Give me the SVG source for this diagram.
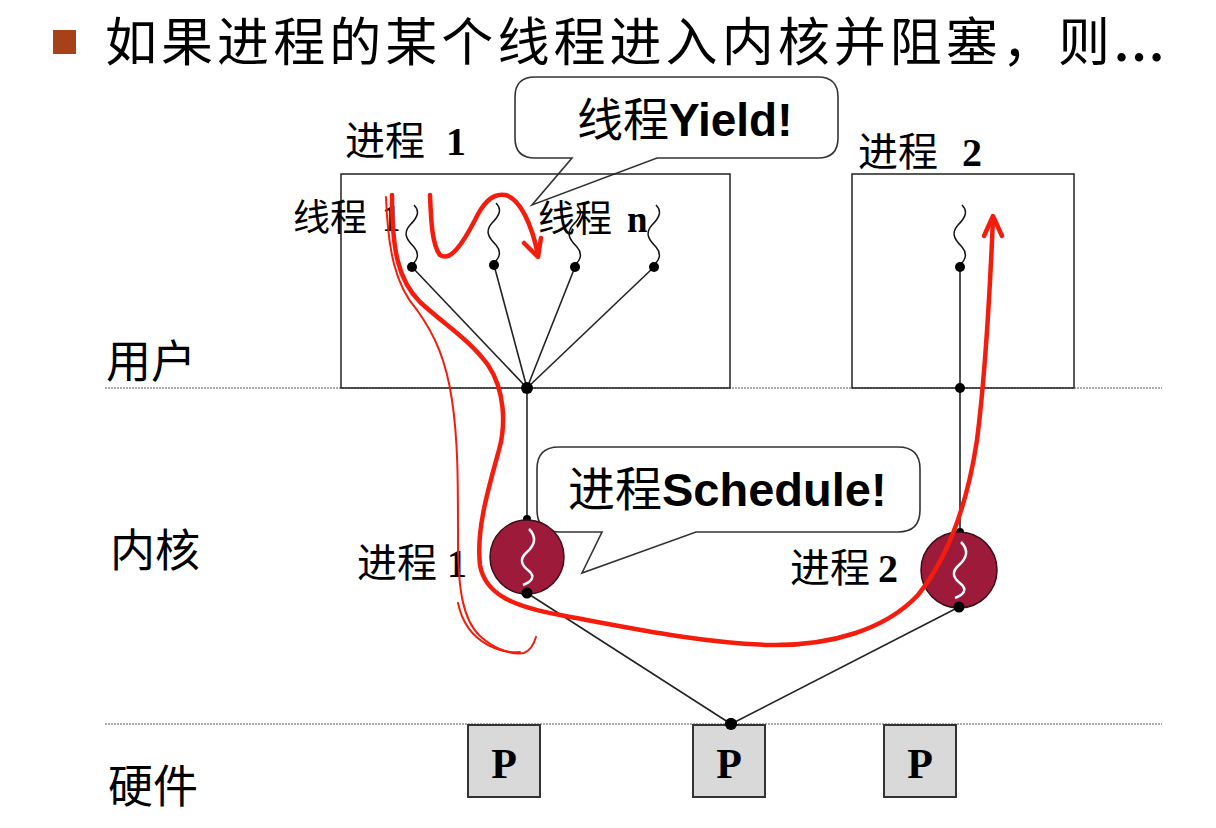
<svg xmlns="http://www.w3.org/2000/svg" xmlns:xlink="http://www.w3.org/1999/xlink" width="1216" height="828" viewBox="0 0 1216 828">
<style>
.cjk{font-family:"Noto Sans CJK SC","Noto Sans CJK JP",sans-serif;fill:#000}
.num{font-family:"Liberation Serif",serif;font-weight:bold}
.arial{font-family:"Liberation Sans",Arial,sans-serif;font-weight:bold}
.box{fill:none;stroke:#222;stroke-width:1.5}
.sep{stroke:#aaa;stroke-width:2;stroke-dasharray:2 1}
.ln{stroke:#222;stroke-width:1.6;fill:none}
.dot{fill:#000}
.sq{fill:none;stroke:#111;stroke-width:1.5}
.proc{fill:#9e1a3a;stroke:#3a0f18;stroke-width:1.5}
.wsq{fill:none;stroke:#fff;stroke-width:2.5}
.bubble{fill:#fff;stroke:#333;stroke-width:1.6;stroke-linejoin:miter}
.pbox{fill:#d9d9d9;stroke:#333;stroke-width:2}
.red{fill:none;stroke:#f41c0c;stroke-linecap:round;stroke-linejoin:round}
.thick{stroke-width:4.5}
.thin{stroke-width:2}
</style>
<defs>
<path id="squig" d="M 2,-62 C 8,-56 6,-50 -2,-42 C -9,-34 -6,-28 2,-20 C 8,-13 6,-6 -3,0"/>
<path id="wsquig" d="M 2,-28 C 10,-20 8,-12 0,-5 C -8,2 -6,8 2,14 C 9,20 4,25 -4,28"/>
</defs>
<rect width="1216" height="828" fill="#fff"/>

<g id="title">
<rect x="53" y="30" width="23" height="24" fill="#a8401a"/>
<text class="cjk" x="105" y="61" font-size="52" textLength="1005" lengthAdjust="spacing">如果进程的某个线程进入内核并阻塞，则</text>
<text class="num" x="1113" y="61" font-size="52">…</text>
</g>

<g id="layers">
<line class="sep" x1="105" y1="388" x2="1162" y2="388"/>
<line class="sep" x1="105" y1="724" x2="1162" y2="724"/>
<text class="cjk" x="106" y="378" font-size="45">用户</text>
<text class="cjk" x="110" y="567" font-size="45">内核</text>
<text class="cjk" x="108" y="803" font-size="45">硬件</text>
</g>

<g id="bubble-yield">
<path class="bubble" d="M 535,77 H 818 Q 838,77 838,97 V 138 Q 838,158 818,158 H 657 L 532,205 L 572,158 H 535 Q 515,158 515,138 V 97 Q 515,77 535,77 Z"/>
<text x="577" y="136" font-size="46"><tspan class="cjk">线程</tspan><tspan class="arial">Yield!</tspan></text>
</g>

<g id="process1">
<rect class="box" x="341" y="174" width="389" height="214"/>
<text font-size="40" y="155"><tspan class="cjk" x="345">进程</tspan><tspan class="num" x="446">1</tspan></text>
<text font-size="37" y="231"><tspan class="cjk" x="293">线程</tspan><tspan class="num" x="382">1</tspan></text>
<text font-size="37" y="232"><tspan class="cjk" x="538">线程</tspan><tspan class="num" x="627">n</tspan></text>
<use href="#squig" class="sq" x="412" y="267"/>
<use href="#squig" class="sq" x="494" y="265"/>
<use href="#squig" class="sq" x="575" y="267"/>
<use href="#squig" class="sq" x="654" y="267"/>
</g>

<g id="process2">
<rect class="box" x="852" y="174" width="222" height="214"/>
<text font-size="40" y="166"><tspan class="cjk" x="858">进程</tspan><tspan class="num" x="962">2</tspan></text>
<use href="#squig" class="sq" x="960" y="267"/>
</g>

<g id="connectors">
<line class="ln" x1="412" y1="267" x2="527" y2="388"/>
<line class="ln" x1="494" y1="265" x2="527" y2="388"/>
<line class="ln" x1="575" y1="267" x2="527" y2="388"/>
<line class="ln" x1="654" y1="267" x2="527" y2="388"/>
<line class="ln" x1="527" y1="388" x2="527" y2="520"/>
<line class="ln" x1="960" y1="267" x2="960" y2="532"/>
<line class="ln" x1="527" y1="593" x2="731" y2="724"/>
<line class="ln" x1="959" y1="607" x2="731" y2="724"/>
<circle class="dot" cx="412" cy="267" r="5"/>
<circle class="dot" cx="494" cy="265" r="5"/>
<circle class="dot" cx="575" cy="267" r="5"/>
<circle class="dot" cx="654" cy="267" r="5"/>
<circle class="dot" cx="527" cy="388" r="6"/>
<circle class="dot" cx="960" cy="267" r="5"/>
<circle class="dot" cx="960" cy="388" r="5"/>
<circle class="dot" cx="527" cy="519" r="4"/>
<circle class="dot" cx="960" cy="532" r="4"/>
<circle class="dot" cx="731" cy="724" r="6"/>
</g>

<g id="bubble-schedule">
<path class="bubble" d="M 559,447 H 898 Q 920,447 920,469 V 510 Q 920,532 898,532 H 696 L 582,573 L 602,532 H 559 Q 537,532 537,510 V 469 Q 537,447 559,447 Z"/>
<text x="568" y="506" font-size="47"><tspan class="cjk">进程</tspan><tspan class="arial">Schedule!</tspan></text>
</g>

<g id="kproc1">
<circle class="proc" cx="527" cy="557" r="37"/>
<use href="#wsquig" class="wsq" x="527" y="557"/>
<circle class="dot" cx="527" cy="593" r="5.5"/>
<text font-size="40" y="577"><tspan class="cjk" x="357">进程</tspan><tspan class="num" x="447">1</tspan></text>
</g>

<g id="kproc2">
<circle class="proc" cx="959" cy="570" r="38"/>
<use href="#wsquig" class="wsq" x="959" y="570"/>
<circle class="dot" cx="959" cy="607" r="5.5"/>
<text font-size="40" y="582"><tspan class="cjk" x="790">进程</tspan><tspan class="num" x="878">2</tspan></text>
</g>

<g id="cpu1">
<rect class="pbox" x="468" y="725" width="72" height="72"/>
<text class="num" x="504" y="778" font-size="42" text-anchor="middle">P</text>
</g>
<g id="cpu2">
<rect class="pbox" x="693" y="725" width="72" height="72"/>
<text class="num" x="729" y="778" font-size="42" text-anchor="middle">P</text>
</g>
<circle class="dot" cx="731" cy="724" r="6"/>
<g id="cpu3">
<rect class="pbox" x="884" y="725" width="72" height="72"/>
<text class="num" x="920" y="778" font-size="42" text-anchor="middle">P</text>
</g>

<g id="annotations">
<path class="red thin" d="M 386,197 C 388,250 395,285 417,310 C 435,335 446,360 452,400 C 458,440 458,480 458,540 C 458,590 463,620 480,636 C 495,650 513,655 524,653 C 531,650 534,644 536,637"/>
<path class="red thin" d="M 458,603 C 462,622 471,636 488,645 C 500,651 512,653 520,652"/>
<path class="red thick" d="M 392,195 C 392,250 398,280 420,302 C 445,325 470,340 488,365 C 505,390 506,425 499,450 C 488,490 476,530 480,565 C 485,595 515,607 560,615 C 630,628 700,643 770,645 C 830,646 885,630 918,595 C 950,555 968,500 977,440 C 986,370 990,290 993,218"/>
<path class="red thick" d="M 984,236 L 993,216 L 1002,236"/>
<path class="red thick" d="M 430,195 C 431,220 432,245 440,255 C 450,262 462,245 475,220 C 483,203 492,193 505,195 C 520,198 532,225 538,255"/>
<path class="red thick" d="M 524,243 L 538,257 L 541,238"/>
</g>
</svg>
